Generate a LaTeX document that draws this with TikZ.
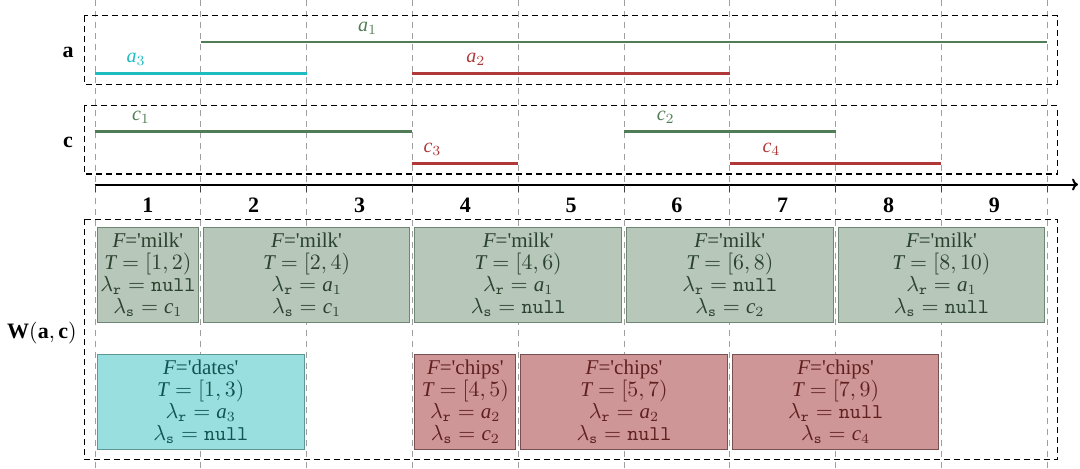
\documentclass[tikz,border=0pt]{standalone}
\usepackage{fontspec}
\setmainfont{Liberation Serif}
\usetikzlibrary{arrows.meta}
\definecolor{lgreen}{RGB}{80,125,85}
\definecolor{lcyan}{RGB}{30,188,192}
\definecolor{lred}{RGB}{176,56,56}
\definecolor{milkfill}{RGB}{183,199,186}
\definecolor{milkdraw}{RGB}{112,134,117}
\definecolor{milktext}{RGB}{42,66,46}
\definecolor{datefill}{RGB}{154,223,223}
\definecolor{datedraw}{RGB}{95,150,150}
\definecolor{datetext}{RGB}{18,84,84}
\definecolor{chipfill}{RGB}{206,150,150}
\definecolor{chipdraw}{RGB}{120,80,80}
\definecolor{chiptext}{RGB}{96,32,32}
\newcommand\boxfont{\fontsize{10.5}{10.9}\selectfont}
\newcommand\gx[1]{\fpeval{95+105.8*(#1-1)}}
\newcommand\mkbox[6]{\node[#2, minimum width={(105.8*(#4-#3)-5)*0.5pt}, minimum height=47.7pt] (#1) at ({95+105.8*((#3+#4)/2-1)},#5) {#6};}
\newcommand\nl{\texttt{null}}
\newcommand\q{\textquotesingle}
\begin{document}
\begin{tikzpicture}[x=0.5pt,y=-0.5pt,
  gridline/.style={gray!75, dash pattern=on 3pt off 2.5pt, line width=0.4pt},
  frame/.style={black, dash pattern=on 3pt off 2pt, line width=0.6pt},
  seg/.style={line width=1.4pt},
  seglabel/.style={font=\fontsize{10}{12}\selectfont, yshift=7pt},
  rowlabel/.style={font=\fontsize{11}{13}\selectfont\bfseries},
  numlabel/.style={font=\fontsize{11}{13}\selectfont\bfseries},
  boxbase/.style={line width=0.5pt, inner sep=0pt, align=center, font=\boxfont},
  milk/.style={boxbase, draw=milkdraw, fill=milkfill, text=milktext},
  dates/.style={boxbase, draw=datedraw, fill=datefill, text=datetext},
  chips/.style={boxbase, draw=chipdraw, fill=chipfill, text=chiptext}]
\useasboundingbox (0,0) rectangle (1080,468);
% grid
\foreach \i in {1,...,10}{
  \draw[gridline] ({95+105.8*(\i-1)},0) -- ({95+105.8*(\i-1)},468);
}
% frames
\draw[frame] (84.4,15.7) rectangle (1057.6,84.3);
\draw[frame] (84.4,105.7) rectangle (1057.6,174);
\draw[frame] (84.4,219.3) rectangle (1057.6,459.3);
% row labels
\node[rowlabel] (la) at (68,52) {a};
\node[rowlabel] (lc) at (68,142) {c};
\node[rowlabel] (lw) at (42,333) {$\textbf{W}(\textbf{a},\textbf{c})$};
% segments
\coordinate (a1s) at (\gx{2},42);   \coordinate (a1e) at (\gx{10},42);
\coordinate (a3s) at (\gx{1},73.5); \coordinate (a3e) at (\gx{3},73.5);
\coordinate (a2s) at (\gx{4},73.5); \coordinate (a2e) at (\gx{7},73.5);
\coordinate (c1s) at (\gx{1},131.5); \coordinate (c1e) at (\gx{4},131.5);
\coordinate (c2s) at (\gx{6},131.5); \coordinate (c2e) at (\gx{8},131.5);
\coordinate (c3s) at (\gx{4},163.5); \coordinate (c3e) at (\gx{5},163.5);
\coordinate (c4s) at (\gx{7},163.5); \coordinate (c4e) at (\gx{9},163.5);
\draw[seg, lgreen] (a1s) -- node[seglabel, pos=0.197] (ta1) {$\textit{a}_1$} (a1e);
\draw[seg, lcyan] (a3s) -- node[seglabel, pos=0.194] (ta3) {$\textit{a}_3$} (a3e);
\draw[seg, lred] (a2s) -- node[seglabel, pos=0.2] (ta2) {$\textit{a}_2$} (a2e);
\draw[seg, lgreen] (c1s) -- node[seglabel, pos=0.145] (tc1) {$\textit{c}_1$} (c1e);
\draw[seg, lgreen] (c2s) -- node[seglabel, pos=0.197] (tc2) {$\textit{c}_2$} (c2e);
\draw[seg, lred] (c3s) -- node[seglabel, pos=0.19] (tc3) {$\textit{c}_3$} (c3e);
\draw[seg, lred] (c4s) -- node[seglabel, pos=0.197] (tc4) {$\textit{c}_4$} (c4e);
% axis
\coordinate (ax0) at (\gx{1},184.5);
\coordinate (ax1) at (1078,184.5);
\draw[line width=1pt, -{To[length=3pt,width=6pt]}] (ax0) -- (ax1);
\foreach \i in {1,...,10}{
  \draw[black!75, line width=0.5pt] ({95+105.8*(\i-1)},184.5) -- ({95+105.8*(\i-1)},192);
}
\foreach \i in {1,...,9}{
  \node[numlabel] (n\i) at ({95+105.8*(\i-0.5)},205) {\i};
}
% boxes top row
\mkbox{m1}{milk}{1}{2}{275}{$\textit{F}$=\q milk\q\\$\textit{T}=[1,2)$\\$\lambda_{\mathtt{r}}=\nl$\\$\lambda_{\mathtt{s}}=\textit{c}_1$}
\mkbox{m2}{milk}{2}{4}{275}{$\textit{F}$=\q milk\q\\$\textit{T}=[2,4)$\\$\lambda_{\mathtt{r}}=\textit{a}_1$\\$\lambda_{\mathtt{s}}=\textit{c}_1$}
\mkbox{m3}{milk}{4}{6}{275}{$\textit{F}$=\q milk\q\\$\textit{T}=[4,6)$\\$\lambda_{\mathtt{r}}=\textit{a}_1$\\$\lambda_{\mathtt{s}}=\nl$}
\mkbox{m4}{milk}{6}{8}{275}{$\textit{F}$=\q milk\q\\$\textit{T}=[6,8)$\\$\lambda_{\mathtt{r}}=\nl$\\$\lambda_{\mathtt{s}}=\textit{c}_2$}
\mkbox{m5}{milk}{8}{10}{275}{$\textit{F}$=\q milk\q\\$\textit{T}=[8,10)$\\$\lambda_{\mathtt{r}}=\textit{a}_1$\\$\lambda_{\mathtt{s}}=\nl$}
% boxes bottom row
\mkbox{d1}{dates}{1}{3}{401.8}{$\textit{F}$=\q dates\q\\$\textit{T}=[1,3)$\\$\lambda_{\mathtt{r}}=\textit{a}_3$\\$\lambda_{\mathtt{s}}=\nl$}
\mkbox{k1}{chips}{4}{5}{401.8}{$\textit{F}$=\q chips\q\\$\textit{T}=[4,5)$\\$\lambda_{\mathtt{r}}=\textit{a}_2$\\$\lambda_{\mathtt{s}}=\textit{c}_2$}
\mkbox{k2}{chips}{5}{7}{401.8}{$\textit{F}$=\q chips\q\\$\textit{T}=[5,7)$\\$\lambda_{\mathtt{r}}=\textit{a}_2$\\$\lambda_{\mathtt{s}}=\nl$}
\mkbox{k3}{chips}{7}{9}{401.8}{$\textit{F}$=\q chips\q\\$\textit{T}=[7,9)$\\$\lambda_{\mathtt{r}}=\nl$\\$\lambda_{\mathtt{s}}=\textit{c}_4$}
\end{tikzpicture}
\end{document}
